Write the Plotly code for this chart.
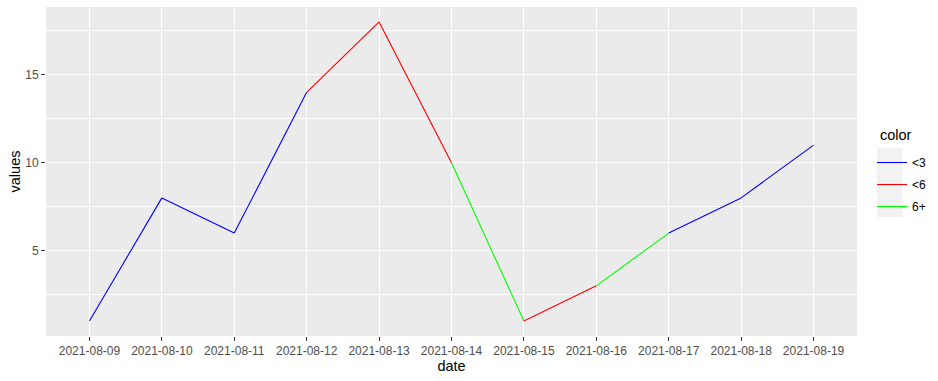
import plotly.graph_objects as go

dates = ["2021-08-09", "2021-08-10", "2021-08-11", "2021-08-12", "2021-08-13",
         "2021-08-14", "2021-08-15", "2021-08-16", "2021-08-17", "2021-08-18", "2021-08-19"]
values = [1, 8, 6, 14, 18, 10, 1, 3, 6, 8, 11]
# colour group of each segment (from point i to point i+1)
seg_groups = ["<3", "<3", "<3", "<6", "<6", "6+", "<6", "6+", "<3", "<3"]
group_order = ["<3", "<6", "6+"]
group_colors = {"<3": "#0000FF", "<6": "#FF0000", "6+": "#00FF00"}

W, H = 938, 381
ML, MR, MT, MB = 46, 81, 7, 45
PW, PH = W - ML - MR, H - MT - MB
FONT = "Liberation Sans, Arial, sans-serif"

fig = go.Figure()
shown = set()
for i, g in enumerate(seg_groups):
    fig.add_trace(go.Scatter(
        x=[dates[i], dates[i + 1]], y=[values[i], values[i + 1]],
        mode="lines", line=dict(color=group_colors[g], width=1.1),
        name=g, legendgroup=g, showlegend=g not in shown,
        legendrank=group_order.index(g) + 1,
        hoverinfo="x+y+name",
    ))
    shown.add(g)

ymin, ymax = min(values), max(values)
pad = (ymax - ymin) * 0.05

fig.update_layout(
    width=W, height=H,
    margin=dict(l=ML, r=MR, t=MT, b=MB, pad=0, autoexpand=False),
    paper_bgcolor="white", plot_bgcolor="#EBEBEB",
    font=dict(family=FONT, color="#4D4D4D", size=12),
    showlegend=True,
    legend=dict(
        font=dict(size=12, color="black"),
        x=(872 - ML) / PW, xanchor="left", y=1 - (148 - MT) / PH, yanchor="top",
        bgcolor="rgba(0,0,0,0)", tracegroupgap=3, itemwidth=30,
    ),
    xaxis=dict(
        type="category", categoryorder="array", categoryarray=dates,
        range=[-0.6, len(dates) - 1 + 0.6],
        showgrid=True, gridcolor="white", gridwidth=1.1,
        zeroline=False, showline=False,
        ticks="outside", ticklen=4, tickwidth=1.1, tickcolor="#333333",
        tickfont=dict(size=12, color="#4D4D4D"),
        title=dict(text="date", font=dict(size=14.5, color="black"), standoff=3),
        fixedrange=True,
    ),
    yaxis=dict(
        range=[ymin - pad, ymax + pad],
        tickmode="linear", tick0=0, dtick=5,
        showgrid=True, gridcolor="white", gridwidth=1.1,
        minor=dict(tickmode="linear", tick0=2.5, dtick=5, showgrid=True,
                   gridcolor="white", gridwidth=0.55, ticks=""),
        zeroline=False, showline=False,
        ticks="outside", ticklen=4, tickwidth=1.1, tickcolor="#333333",
        tickfont=dict(size=12, color="#4D4D4D"),
        title=dict(text="values", font=dict(size=14.5, color="black"), standoff=1),
        fixedrange=True,
    ),
    annotations=[dict(
        text="color", xref="paper", yref="paper",
        x=(878 - ML) / PW, y=1 - (135 - MT) / PH, xanchor="left", yanchor="middle",
        showarrow=False, font=dict(size=14.5, color="black"),
    )],
)

# grey background behind legend keys (ggplot legend.key)
fig.add_shape(type="rect", xref="paper", yref="paper",
              x0=(877 - ML) / PW, x1=(902 - ML) / PW,
              y0=1 - (217 - MT) / PH, y1=1 - (148 - MT) / PH,
              fillcolor="#F2F2F2", line=dict(width=0), layer="below")

fig.write_html("out.html")
